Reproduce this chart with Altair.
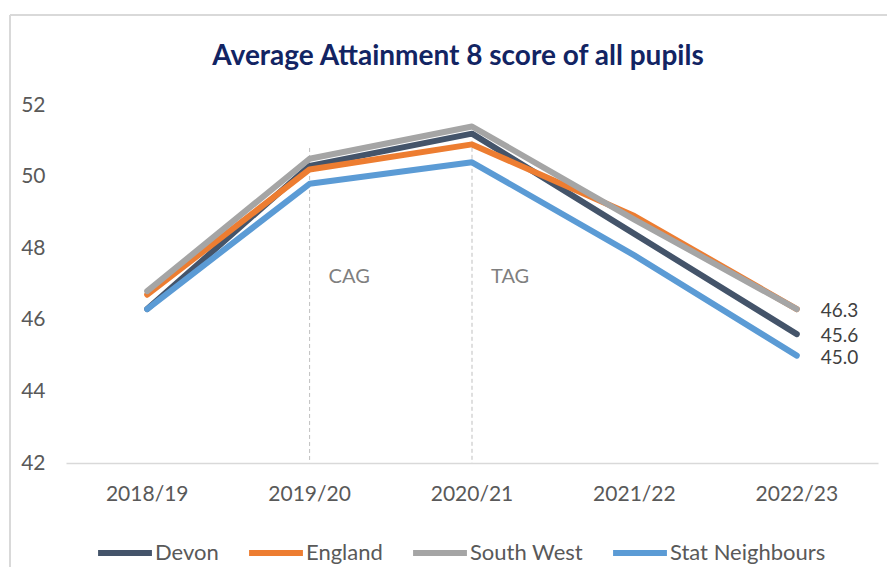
import altair as alt
import pandas as pd

years = ["2018/19", "2019/20", "2020/21", "2021/22", "2022/23"]
series_names = ["Devon", "England", "South West", "Stat Neighbours"]
devon = [46.3, 50.3, 51.2, 48.4, 45.6]
england = [46.7, 50.2, 50.9, 48.9, 46.3]
south_west = [46.8, 50.5, 51.4, 48.8, 46.3]
stat_neighbours = [46.3, 49.8, 50.4, 47.8, 45.0]
colors = ["#44546A", "#ED7D31", "#A5A5A5", "#5B9BD5"]

end_labels = ["46.3", "45.6", "45.0"]
end_values = [46.3, 45.6, 45.0]

notes = ["CAG", "TAG"]
note_years = ["2019/20", "2020/21"]
note_values = [47.2, 47.2]
rule_tops = [50.8, 51.0]

rows = []
for name, vals in zip(series_names, [devon, england, south_west, stat_neighbours]):
    for i, (yr, v) in enumerate(zip(years, vals)):
        rows.append({"Year": yr, "Series": name, "Score": v, "order": i})
df = pd.DataFrame(rows)

df_end = pd.DataFrame({"Year": [years[-1]] * 3, "Score": end_values, "Label": end_labels})
df_notes = pd.DataFrame({"Year": note_years, "Score": note_values, "Note": notes,
                         "Top": rule_tops, "Bottom": [42, 42]})

FONT = "Lato"

x_enc = alt.X("Year:N", sort=years, title=None,
              scale=alt.Scale(domain=years, paddingInner=0, paddingOuter=0),
              axis=alt.Axis(labelAngle=0, labelAlign="center", ticks=False, domainColor="#D9D9D9",
                            domainWidth=1.5, labelFontSize=21, labelColor="#595959",
                            labelPadding=31, labelFont=FONT, grid=False))
y_scale = alt.Scale(domain=[42, 52], nice=False, zero=False)

lines = alt.Chart(df).mark_line(strokeWidth=6, strokeCap="round", strokeJoin="round").encode(
    x=x_enc,
    y=alt.Y("Score:Q", scale=y_scale, title=None,
            axis=alt.Axis(values=[42, 44, 46, 48, 50, 52], domain=False, ticks=False, grid=False,
                          labelFontSize=21, labelColor="#595959", labelAlign="right",
                          labelPadding=21, labelFont=FONT)),
    color=alt.Color("Series:N", sort=series_names,
                    scale=alt.Scale(domain=series_names, range=colors),
                    legend=alt.Legend(title=None, orient="none", direction="horizontal",
                                      legendX=29, legendY=418, symbolType="stroke",
                                      symbolSize=2900, symbolStrokeWidth=6, labelFontSize=22,
                                      labelColor="#595959", labelFont=FONT, labelOffset=0,
                                      columnPadding=18)),
    order="order:Q",
)

rules = alt.Chart(df_notes).mark_rule(color="#BFBFBF", strokeDash=[4, 3], strokeWidth=1).encode(
    x=alt.X("Year:N", sort=years),
    y=alt.Y("Top:Q", scale=y_scale),
    y2="Bottom:Q",
)

note_text = alt.Chart(df_notes).mark_text(align="left", baseline="middle", dx=19, fontSize=20,
                                          color="#7F7F7F", font=FONT).encode(
    x=alt.X("Year:N", sort=years),
    y=alt.Y("Score:Q", scale=y_scale),
    text="Note:N",
)

end_text = alt.Chart(df_end).mark_text(align="left", baseline="middle", dx=24, dy=2, fontSize=19,
                                       color="#404040", font=FONT).encode(
    x=alt.X("Year:N", sort=years),
    y=alt.Y("Score:Q", scale=y_scale),
    text="Label:N",
)

frame_top = alt.Chart(df_end).mark_rule(color="#D9D9D9", strokeWidth=2).encode(
    x=alt.value(-56), x2=alt.value(830), y=alt.value(-90))
frame_left = alt.Chart(df_end).mark_rule(color="#D9D9D9", strokeWidth=2).encode(
    x=alt.value(-56), y=alt.value(-90), y2=alt.value(480))

chart = alt.layer(frame_top, frame_left, rules, lines, note_text, end_text).properties(
    width=812, height=358,
    title=alt.TitleParams("Average Attainment 8 score of all pupils", font=FONT, fontSize=28,
                          fontWeight="bold", color="#122463", anchor="middle", frame="group",
                          dx=-14, offset=-57),
    autosize=alt.AutoSizeParams(type="none"),
    padding={"left": 58, "top": 97, "right": 9, "bottom": 104},
).configure_view(stroke=None)

chart.save("out.html", embed_options={"renderer": "svg", "actions": False})
